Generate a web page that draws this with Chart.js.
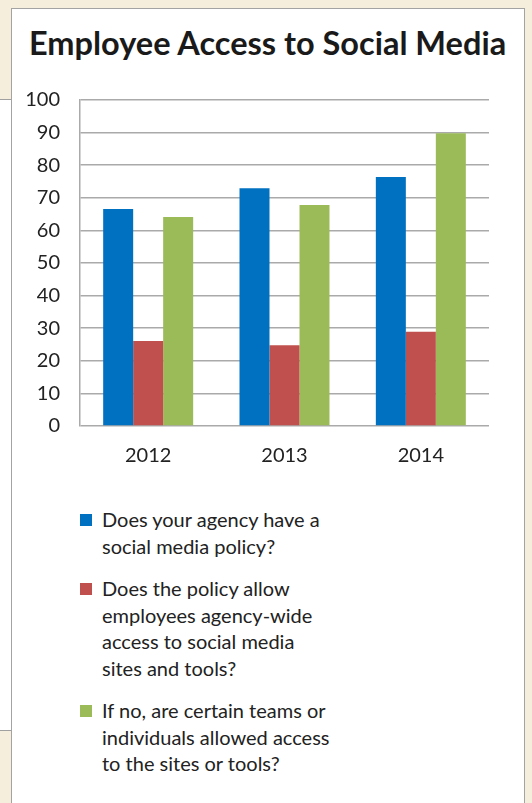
<!DOCTYPE html>
<html lang="en">
<head>
<meta charset="UTF-8">
<title>Employee Access to Social Media</title>
<script src="https://cdn.jsdelivr.net/npm/chart.js"></script>
<style>
  body {
    margin: 0;
    width: 532px;
    height: 803px;
    overflow: hidden;
    position: relative;
    background: #f5eedc;
    font-family: Lato, "Noto Sans", sans-serif;
    color: #222;
  }
  .back {
    position: absolute;
    left: 0; top: 99px;
    width: 12px; height: 630px;
    background: #fff;
    border-top: 1px solid #a0a0a0;
    border-bottom: 1px solid #a0a0a0;
  }
  .panel {
    position: absolute;
    left: 11px; top: 8px;
    width: 512px; height: 820px;
    background: #fff;
    border: 1px solid #a3a3a3;
  }
  h1 {
    position: absolute;
    left: 29px; top: 23px;
    margin: 0;
    font-size: 32.5px;
    font-weight: bold;
    white-space: nowrap;
    color: #1a1a1a;
  }
  #chartBox {
    position: absolute;
    left: 0; top: 0;
    width: 532px; height: 480px;
  }
  #legend {
    position: absolute;
    left: 80px; top: 506px;
    font-size: 20px;
    line-height: 26.5px;
  }
  .item { position: relative; padding-left: 22px; margin-bottom: 16px; }
  .item span {
    position: absolute; left: 0; top: 8px;
    width: 12px; height: 12px;
  }
</style>
</head>
<body>
<div class="back"></div>
<div class="panel"></div>
<h1>Employee Access to Social Media</h1>
<div id="chartBox"><canvas id="chart"></canvas></div>
<div id="legend"></div>

<script>
const years = ['2012', '2013', '2014'];
const seriesLabels = [
  ['Does your agency have a', 'social media policy?'],
  ['Does the policy allow', 'employees agency-wide', 'access to social media', 'sites and tools?'],
  ['If no, are certain teams or', 'individuals allowed access', 'to the sites or tools?']
];
const policy = [66.6, 72.9, 76.4];
const agencyWide = [26.1, 24.8, 28.9];
const certainTeams = [64.1, 67.8, 89.8];
const colors = ['#0070c0', '#c0504d', '#9bbb59'];
const yTicks = [0, 10, 20, 30, 40, 50, 60, 70, 80, 90, 100];

const font = { family: 'Lato, "Noto Sans", sans-serif', size: 20 };

const chart = new Chart(document.getElementById('chart'), {
  type: 'bar',
  data: {
    labels: years,
    datasets: [policy, agencyWide, certainTeams].map((d, i) => ({
      label: seriesLabels[i].join(' '),
      data: d,
      backgroundColor: colors[i],
      barPercentage: 1,
      categoryPercentage: 0.66
    }))
  },
  options: {
    responsive: true,
    maintainAspectRatio: false,
    animation: false,
    layout: { padding: { left: 0, right: 43, top: 100, bottom: 4 } },
    plugins: { legend: { display: false }, tooltip: { enabled: false } },
    scales: {
      x: {
        grid: { display: false },
        border: { display: false },
        ticks: { color: '#222', font: font, padding: 10 },
        afterFit: s => { s.height = 50; }
      },
      y: {
        min: 0, max: 100,
        afterBuildTicks: s => { s.ticks = yTicks.map(v => ({ value: v })); },
        grid: { color: '#aaaaaa', lineWidth: 1.5, drawTicks: false },
        border: { color: '#aaaaaa', width: 1.5 },
        ticks: { color: '#222', font: font, padding: 20 },
        afterFit: s => { s.width = 80; }
      }
    }
  }
});

// legend built from the chart's datasets
document.getElementById('legend').innerHTML = chart.data.datasets.map((ds, i) =>
  '<div class="item"><span style="background:' + ds.backgroundColor + '"></span>' +
  seriesLabels[i].join('<br>') + '</div>'
).join('');
</script>
</body>
</html>
